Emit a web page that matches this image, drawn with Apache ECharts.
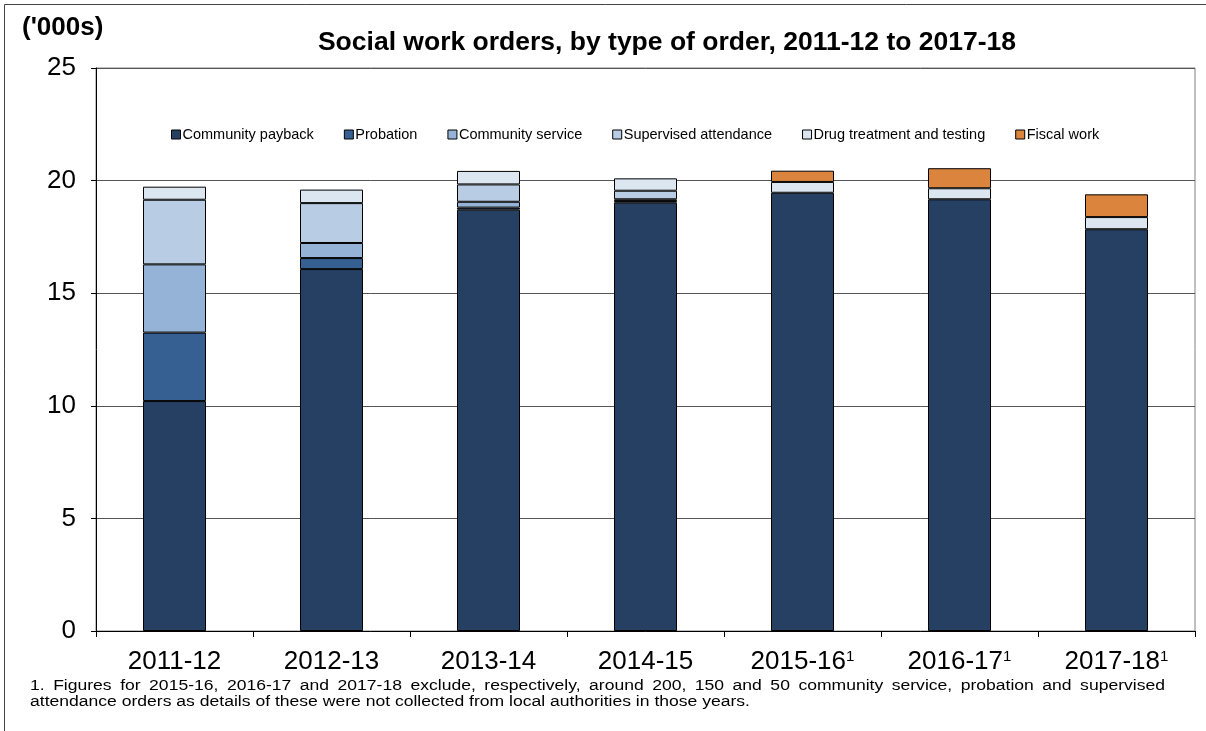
<!DOCTYPE html>
<html>
<head>
<meta charset="utf-8">
<script src="https://cdn.jsdelivr.net/npm/echarts@6/dist/echarts.min.js"></script>
<style>
html,body{margin:0;padding:0;background:#fff;}
#c{width:1206px;height:731px;}
</style>
</head>
<body>
<div id="c"></div>
<script>
var categories = ['2011-12','2012-13','2013-14','2014-15','2015-16','2016-17','2017-18'];
var footMarks = ['','','','','1','1','1'];
var seriesNames = ['Community payback','Probation','Community service','Supervised attendance','Drug treatment and testing','Fiscal work'];
var communityPayback = [10.21, 16.07, 18.71, 19.02, 19.46, 19.17, 17.84];
var probation        = [3.04, 0.49, 0.09, 0.07, 0, 0, 0];
var communityService = [3.03, 0.67, 0.26, 0.08, 0, 0, 0];
var supervisedAtt    = [2.87, 1.77, 0.77, 0.38, 0, 0, 0];
var drugTreatment    = [0.58, 0.60, 0.60, 0.55, 0.48, 0.49, 0.54];
var fiscalWork       = [0, 0, 0, 0, 0.50, 0.89, 1.01];
var yTicks = [0, 5, 10, 15, 20, 25];
var footnoteLine1 = '1. Figures for 2015-16, 2016-17 and 2017-18 exclude, respectively, around 200, 150 and 50 community service, probation and supervised';
var footnoteLine2 = 'attendance orders as details of these were not collected from local authorities in those years.';

var colors = ['#264064','#366092','#95b3d7','#b8cce4','#dce6f1','#db843d'];
var values = [communityPayback, probation, communityService, supervisedAtt, drugTreatment, fiscalWork];
var FONT = '"Liberation Sans", Arial, sans-serif';
var FOOT_FONT = '14px "Liberation Sans", Arial, sans-serif';

var mctx = document.createElement('canvas').getContext('2d');
mctx.font = FOOT_FONT;
var lineStart = 30, line1End = 1165, line2Width = 720;
var sx = line2Width / mctx.measureText(footnoteLine2).width;

var graphics = [
  {type: 'text', left: 22, top: 15, style: {text: "('000s)", font: 'bold 26px "Liberation Sans", Arial, sans-serif', fill: '#000'}},
  {type: 'rect', shape: {x: 4.5, y: 4.5, width: 1400, height: 900}, style: {fill: 'none', stroke: '#444', lineWidth: 1}, silent: true},
  {type: 'text', x: lineStart, y: 695, scaleX: sx, style: {text: footnoteLine2, font: FOOT_FONT, fill: '#000'}}
];
var words = footnoteLine1.split(' ');
var widths = words.map(function(w){ return mctx.measureText(w).width * sx; });
var total = widths.reduce(function(a,b){return a+b;}, 0);
var gap = (line1End - lineStart - total) / (words.length - 1);
var xCur = lineStart;
words.forEach(function(w, i){
  graphics.push({type: 'text', x: xCur, y: 679, scaleX: sx, style: {text: w, font: FOOT_FONT, fill: '#000'}});
  xCur += widths[i] + gap;
});

var chart = echarts.init(document.getElementById('c'), null, {renderer:'canvas'});
var series = seriesNames.map(function(n, i){
  return {
    name: n, type: 'bar', stack: 'total', barWidth: 63,
    data: values[i].map(function(v){ return v === 0 ? null : v; }),
    itemStyle: {color: colors[i], borderColor: '#000', borderWidth: 1},
    emphasis: {disabled: true}
  };
});

chart.setOption({
  animation: false,
  textStyle: {fontFamily: FONT},
  title: {
    text: "Social work orders, by type of order, 2011-12 to 2017-18",
    left: 662, textAlign: 'center', top: 24,
    textStyle: {fontSize: 26.5, fontWeight: 'bold', color: '#000', fontFamily: FONT}
  },
  graphic: graphics,
  legend: {
    top: 122, left: 166,
    itemWidth: 9, itemHeight: 9, itemGap: 30,
    icon: 'rect',
    textStyle: {fontSize: 14.5, color: '#000', fontFamily: FONT, padding: [0,0,0,-3]},
    data: seriesNames.map(function(n, i){ return {name: n, itemStyle: {color: colors[i], borderColor: '#000', borderWidth: 1}}; })
  },
  grid: {left: 96, right: 11, top: 68, bottom: 100, show: true, borderColor: '#808080', borderWidth: 1, containLabel: false},
  xAxis: {
    type: 'category', data: categories,
    axisLine: {lineStyle: {color: '#000', width: 1}},
    axisTick: {show: true, alignWithLabel: false, length: 6, lineStyle: {color: '#000'}},
    axisLabel: {
      margin: 18, color: '#000',
      formatter: function(v, idx){
        var m = footMarks[idx];
        return m ? '{a|' + v + '}{s|' + m + '}' : '{a|' + v + '}';
      },
      rich: {
        a: {fontSize: 26, fontFamily: FONT, color: '#000'},
        s: {fontSize: 15, fontFamily: FONT, color: '#000', verticalAlign: 'top', padding: [0,0,10,0]}
      }
    }
  },
  yAxis: {
    type: 'value', min: 0, max: 25, interval: 5,
    axisLine: {show: true, lineStyle: {color: '#000', width: 1}},
    axisTick: {show: true, length: 5, lineStyle: {color: '#000'}},
    axisLabel: {fontSize: 26, color: '#000', margin: 20, fontFamily: FONT,
      formatter: function(v){ return yTicks.indexOf(v) >= 0 ? String(v) : ''; }},
    splitLine: {show: true, lineStyle: {color: '#555', width: 1}}
  },
  series: series
});
</script>
</body>
</html>
